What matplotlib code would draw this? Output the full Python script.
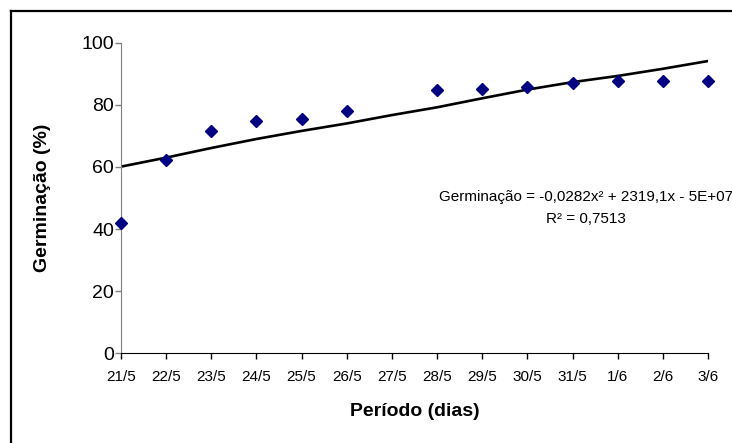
import matplotlib
matplotlib.use('Agg')
import matplotlib.pyplot as plt
from matplotlib.lines import Line2D
import numpy as np

plt.rcParams['font.family'] = ['Liberation Sans', 'DejaVu Sans']

# dias do periodo (eixo x)
dias = ['21/5', '22/5', '23/5', '24/5', '25/5', '26/5', '27/5',
        '28/5', '29/5', '30/5', '31/5', '1/6', '2/6', '3/6']

# germinacao observada (27/5 sem leitura)
germ_dias = ['21/5', '22/5', '23/5', '24/5', '25/5', '26/5',
             '28/5', '29/5', '30/5', '31/5', '1/6', '2/6', '3/6']
germ = [42.0, 62.2, 71.7, 74.9, 75.3, 78.1,
        84.7, 85.2, 85.7, 87.0, 87.6, 87.6, 87.6]

# linha de tendencia (polinomial)
tend = [60.1, 63.0, 66.1, 69.0, 71.6, 74.0, 76.7,
        79.2, 82.1, 84.9, 87.3, 89.3, 91.6, 94.1]

eq_txt = 'Germinação = -0,0282x² + 2319,1x - 5E+07'
r2_txt = 'R² = 0,7513'

fig = plt.figure(figsize=(7.32, 4.43), dpi=100)
ax = fig.add_axes([121/732, 1 - 353.3/443, (708 - 121)/732, (353.3 - 42.7)/443])

xi = np.arange(len(dias))
gx = [dias.index(d) for d in germ_dias]

ax.plot(xi, tend, color='black', lw=1.9, zorder=2)
ax.plot(gx, germ, linestyle='none', marker='D', ms=6.3, color='#000080',
        clip_on=False, zorder=3)

ax.set_xlim(0, len(dias) - 1)
ax.set_ylim(0, 100)
ax.set_yticks([0, 20, 40, 60, 80, 100])
ax.set_xticks(xi)
ax.set_xticklabels(dias, fontsize=11)
ax.tick_params(axis='y', labelsize=14, direction='out', length=4, width=1,
               color='#808080', pad=1)
ax.tick_params(axis='x', direction='out', length=4, width=1, color='black', pad=8)

for s in ['top', 'right']:
    ax.spines[s].set_visible(False)
ax.spines['left'].set_color('#808080')
ax.spines['bottom'].set_color('black')

ax.set_xlabel('Período (dias)', fontsize=14, fontweight='bold', labelpad=14)
ax.set_ylabel('Germinação (%)', fontsize=14, fontweight='bold', labelpad=22)

ax.text(585.8/732, 1 - 196.7/443, eq_txt, transform=fig.transFigure,
        ha='center', va='center', fontsize=11, clip_on=False)
ax.text(585.8/732, 1 - 219/443, r2_txt, transform=fig.transFigure,
        ha='center', va='center', fontsize=11)

# moldura
fig.add_artist(Line2D([11/732, 11/732], [0, 1 - 11/443], color='black', lw=1.6))
fig.add_artist(Line2D([11/732, 1], [1 - 11/443, 1 - 11/443], color='black', lw=1.6))

fig.savefig('out.png', dpi=100)
